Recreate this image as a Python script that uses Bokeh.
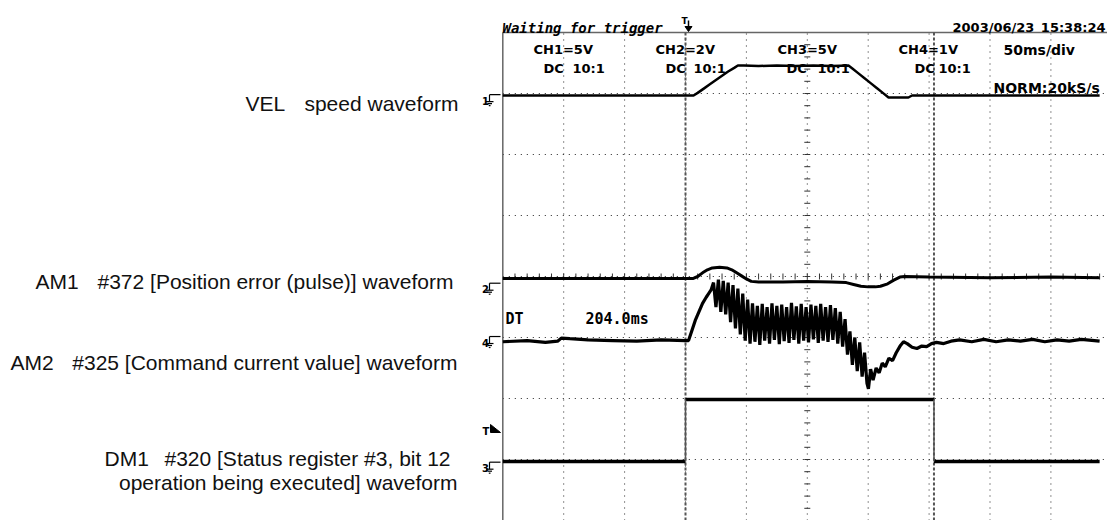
from bokeh.plotting import figure
from bokeh.models import Range1d
from bokeh.core.properties import value
from bokeh.embed import file_html
from bokeh.resources import INLINE

# ---------------- data (time in ms, trigger at 0 ; amplitude in screen divisions, 0 = bottom) -------------
MS_PER_DIV = 50
vel_t = [-150, 6.6, 10, 15, 20, 25, 30, 35, 40, 43, 48, 60, 75, 90, 105, 120, 133.8, 137, 142, 147,
         152, 157, 162, 166.7, 183, 186, 340]
vel_v = [6.967, 6.967, 7.01, 7.08, 7.15, 7.22, 7.29, 7.36, 7.42, 7.459, 7.46, 7.45, 7.46, 7.45, 7.46,
         7.45, 7.459, 7.41, 7.33, 7.25, 7.17, 7.09, 7.01, 6.934, 6.934, 6.967, 6.967]

am1_t = [-150, 6, 10, 14, 18, 22, 28, 34, 38, 42, 46, 50, 54, 60, 80, 100, 120, 132, 138, 144, 150,
         156, 160, 166, 171, 176, 180, 200, 250, 300, 340]
am1_v = [3.967, 3.967, 4.00, 4.06, 4.11, 4.14, 4.15, 4.14, 4.11, 4.06, 4.01, 3.96, 3.92, 3.91, 3.91,
         3.92, 3.91, 3.90, 3.87, 3.84, 3.83, 3.83, 3.84, 3.88, 3.94, 3.99, 4.00, 3.99, 3.98, 3.99, 3.98]

am2_t = [-150, -130, -115, -105, -102, -95, -80, -60, -40, -20, 0, 2.5, 5, 8, 11, 14, 17, 19, 21,
         23, 25, 27, 29, 31, 33, 35, 37, 39, 41, 43, 45, 47, 49, 51, 53, 55, 57, 59, 61,
         63, 65, 67, 69, 71, 73, 75, 77, 79, 81, 83, 85, 87, 89, 91, 93, 95, 97, 99, 101,
         103, 105, 107, 109, 111, 113, 115, 117, 119, 121, 123, 125, 127, 129, 131, 133, 135, 137, 139, 141,
         143, 145, 147, 149, 150.2,
         152.0, 154.0, 156.5, 159.0, 161.5, 164.0, 167.0, 170.0,
         173.0, 176.5, 179.0, 182.0, 186.0, 190.0, 194.0, 198.0, 202.0, 206.0, 212.0, 218.0, 225, 235,
         245, 255, 265, 275, 285, 295, 305, 315, 325, 340]
am2_v = [2.93, 2.95, 2.92, 2.94, 2.99, 2.98, 2.96, 2.95, 2.94, 2.96, 2.95, 2.95, 3.10, 3.28, 3.42,
         3.56, 3.66, 3.72, 3.78,
         3.90, 3.50, 3.95, 3.42, 3.93, 3.38, 3.90, 3.25, 3.86, 3.15, 3.80, 3.05, 3.72, 2.95, 3.62, 2.90,
         3.56, 2.93, 3.52, 2.88,
         3.55, 2.95, 3.50, 2.90, 3.56, 2.96, 3.52, 2.89, 3.54, 2.94, 3.50, 2.91, 3.57, 2.96, 3.51, 2.90,
         3.55, 2.95, 3.50, 2.92,
         3.54, 2.97, 3.52, 2.91, 3.55, 2.95, 3.50, 2.93, 3.53, 2.96, 3.48, 2.90, 3.42, 2.85, 3.30, 2.72,
         3.10, 2.55, 3.00, 2.45,
         2.92, 2.36, 2.75, 2.25, 2.16,
         2.48, 2.30, 2.50, 2.42, 2.58, 2.52, 2.66, 2.62,
         2.75, 2.87, 2.93, 2.90, 2.84, 2.82, 2.86, 2.85, 2.90, 2.92, 2.90, 2.94, 2.96, 2.93,
         2.97, 2.93, 2.96, 2.94, 2.97, 2.93, 2.96, 2.94, 2.97, 2.94]

dm1_edges = [-150, 0, 204, 340]
dm1_levels = [0.967, 1.984, 0.967]

cursor_dt = 204.0
header_ch = ["CH1=5V", "CH2=2V", "CH3=5V", "CH4=1V"]
header_cpl = ["DC", "DC", "DC", "DC"]
header_probe = ["10:1", "10:1", "10:1", "10:1"]
timebase = "50ms/div"
acq = "NORM:20kS/s"
status = "Waiting for trigger"
date_str = "2003/06/23"
time_str = "15:38:24"
ground_ids = ["1", "2", "4", "3"]
ground_levels = [6.98, 3.89, 3.016, 0.956]

# ---------------- layout helpers (image pixel -> data units) -------------
PX_PER_MS = 1.218
PX_PER_DIV = 61.0
T0_PX = 685.0
D0_PX = 520.0


def tx(px):
    return (px - T0_PX) / PX_PER_MS


def dy(py):
    return (D0_PX - py) / PX_PER_DIV


W, H = 1107, 520
p = figure(width=W, height=H, x_range=Range1d(tx(0), tx(W)), y_range=Range1d(dy(H), dy(0)),
           x_axis_type=None, y_axis_type=None, toolbar_location=None, output_backend="svg",
           min_border=0, min_border_left=0, min_border_right=0, min_border_top=0, min_border_bottom=0)
p.outline_line_color = None
p.background_fill_color = "white"
p.border_fill_color = "white"

t_left = -3 * MS_PER_DIV
t_right = 7 * MS_PER_DIV

# dotted graticule
grid_t = [t_left + k * MS_PER_DIV for k in range(1, 10)]
p.segment(x0=grid_t, y0=[0] * len(grid_t), x1=grid_t, y1=[8] * len(grid_t),
          line_color="#222222", line_width=1, line_dash="1 5")
grid_d = list(range(1, 8))
p.segment(x0=[t_left] * 7, y0=grid_d, x1=[t_right] * 7, y1=grid_d,
          line_color="#222222", line_width=1, line_dash="1 5")

# centre axis tick marks
tc = t_left + 5 * MS_PER_DIV
vt = [k * 0.2 for k in range(1, 40)]
p.segment(x0=[tc - 3 / PX_PER_MS] * len(vt), y0=vt, x1=[tc + 3 / PX_PER_MS] * len(vt), y1=vt,
          line_color="#333333", line_width=1)
ht = [t_left + k * MS_PER_DIV / 5 for k in range(1, 50)]
p.segment(x0=ht, y0=[4 - 3 / PX_PER_DIV] * len(ht), x1=ht, y1=[4 + 3 / PX_PER_DIV] * len(ht),
          line_color="#333333", line_width=1)

# screen border (left & top)
p.line([t_left, t_left], [dy(530), 8], line_color="#666666", line_width=1.5)
p.line([t_left, t_right], [8, 8], line_color="#666666", line_width=1.5)

# cursors
for ct in [0, cursor_dt]:
    p.line([ct, ct], [dy(530), 8], line_color="#555555", line_width=2, line_dash="3 2")

# traces
p.line(vel_t, vel_v, line_color="black", line_width=2.5)
p.line(am1_t, am1_v, line_color="black", line_width=3)
p.line(am2_t, am2_v, line_color="black", line_width=3.2)
p.segment(x0=dm1_edges[:-1], y0=dm1_levels, x1=dm1_edges[1:], y1=dm1_levels,
          line_color="black", line_width=3.5)
p.segment(x0=dm1_edges[1:-1], y0=dm1_levels[:-1], x1=dm1_edges[1:-1], y1=dm1_levels[1:],
          line_color="#555555", line_width=1.5)

HDR = value("DejaVu Sans")
MONO = value("DejaVu Sans Mono")
SANS = value("Liberation Sans")


def txt(x, y, s, size, font=HDR, style="bold", align="left", color="black"):
    p.text(x=[x], y=[y], text=[s], text_font=font, text_font_size=size, text_font_style=style,
           text_align=align, text_baseline="alphabetic", text_color=color)


# header texts
ch_x = [533, 655, 777, 898]
dc_x = [543, 665, 786, 914]
pr_x = [572, 693, 817, 938]
for i in range(4):
    txt(tx(ch_x[i]), dy(49), header_ch[i], "13px")
    txt(tx(dc_x[i]), dy(68), header_cpl[i], "13px")
    txt(tx(pr_x[i]), dy(68), header_probe[i], "13px")
txt(tx(1003), dy(49), timebase, "14px")
txt(tx(993), dy(87), acq, "14px")
txt(tx(502), dy(27), status, "14px", font=MONO, style="bold italic")
txt(tx(952), dy(27), date_str, "13px")
txt(tx(1105), dy(27), time_str, "13px", align="right")
txt(tx(505), dy(318), "DT", "15px", font=MONO)
txt(tx(585), dy(318), "%.1fms" % cursor_dt, "15px", font=MONO)

# trigger position marker (top)
txt(tx(684), dy(20), "T", "9px", align="center")
p.line([tx(688), tx(688)], [dy(20), dy(29)], line_color="black", line_width=1.5)
p.patch([tx(684.5), tx(691.5), tx(688)], [dy(26), dy(26), dy(31)], color="black")

# trigger level marker (left)
txt(tx(482), dy(431), "T", "10px")
p.patch([tx(490), tx(490), tx(500)], [dy(424), dy(432), dy(432)], color="black")

# ground markers
for gid, lv in zip(ground_ids, ground_levels):
    base = D0_PX - lv * PX_PER_DIV
    txt(tx(481.5), dy(base + 6), gid, "10px")
    p.multi_line(xs=[[tx(489), tx(500)], [tx(489), tx(489)], [tx(485.5), tx(493)],
                     [tx(487), tx(491.5)], [tx(488.3), tx(490)]],
                 ys=[[dy(base), dy(base)], [dy(base), dy(base + 7)], [dy(base + 7), dy(base + 7)],
                     [dy(base + 9), dy(base + 9)], [dy(base + 11), dy(base + 11)]],
                 line_color="black", line_width=1.2)

# channel descriptions (left)
lab_left = [("VEL", 245, 103.3), ("AM1", 35, 280.7), ("AM2", 10, 362), ("DM1", 104, 458)]
lab_right = [("speed waveform", 458, 103.3),
             ("#372 [Position error (pulse)] waveform", 453, 280.7),
             ("#325 [Command current value] waveform", 457, 362),
             ("#320 [Status register #3, bit 12", 450, 458),
             ("operation being executed] waveform", 457, 482)]
for s, x, y in lab_left:
    txt(tx(x), dy(y), s, "21px", font=SANS, style="normal", color="#111111")
for s, x, y in lab_right:
    txt(tx(x), dy(y), s, "21px", font=SANS, style="normal", align="right", color="#111111")

open("out.html", "w").write(file_html(p, INLINE))
